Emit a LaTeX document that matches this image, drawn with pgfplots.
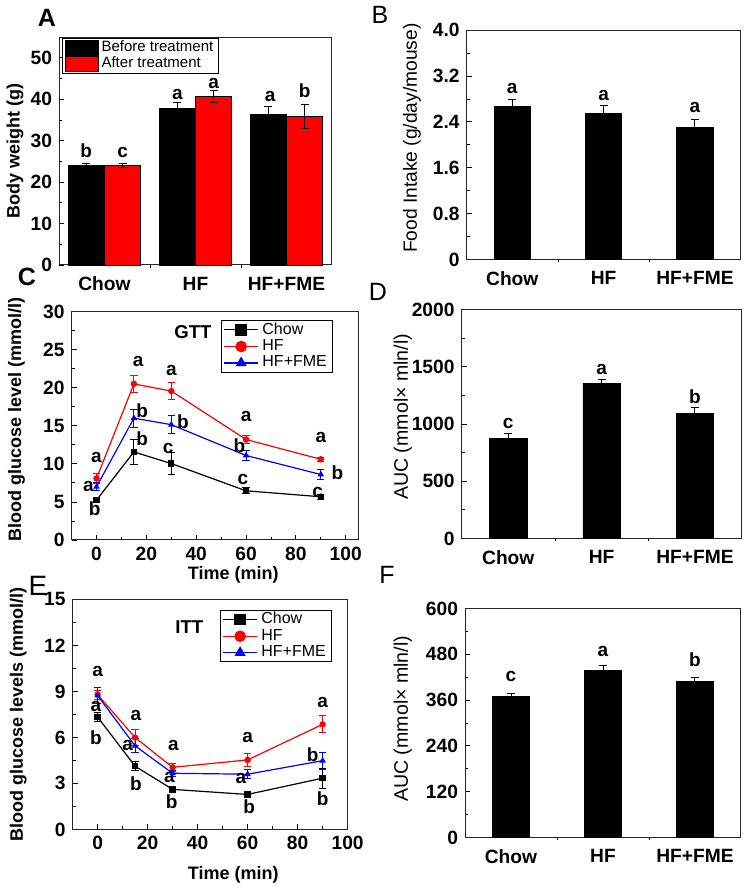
\documentclass[border=0pt]{standalone}
\usepackage{fontspec}
\setmainfont{Liberation Sans}
\usepackage{pgfplots}
\pgfplotsset{compat=1.18}
\definecolor{myred}{RGB}{255,0,0}
\definecolor{myblue}{RGB}{0,0,255}
\newcommand\letfont{\fontsize{9.5}{10}\selectfont\bfseries}
\pgfplotsset{
  base/.style={
    scale only axis,
    axis line style={line width=0.5pt, black!85},
    tick style={black, line width=0.4pt},
    tick align=inside,
    major tick length=2.5pt, minor tick length=1.5pt,
    tick label style={font=\fontsize{9.6}{10}\selectfont\bfseries},
    /pgf/number format/assume math mode=true,
    /pgf/number format/1000 sep={},
    ytick pos=left, xtick pos=bottom,
    clip=false,
    label style={font=\fontsize{9}{10}\selectfont\bfseries},
  },
  barax/.style={base, xmin=-0.5, xmax=2.5, ymin=0,
    xtick={0,1,2}, xticklabels={Chow,HF,HF+FME},
    major x tick style={draw=none}, minor xtick={0.5,1.5},
    minor y tick num=1,
    ybar, bar width=0.4, bar shift=0,
  },
  lineax/.style={base, xmin=-10, ymin=0,
    xtick={0,20,40,60,80,100}, minor x tick num=1, minor y tick num=1,
    legend cell align=left,
    legend style={font=\fontsize{8}{9}\selectfont, draw=black, line width=0.5pt,
      inner xsep=1pt, inner ysep=0.5pt, row sep=0pt, anchor=north east,
      nodes={inner ysep=0.6pt, inner xsep=1.8pt}},
    legend image post style={mark size=2.6pt},
  },
  ebar/.style={error bars/.cd, y dir=both, y explicit,
    error bar style={black, line width=0.5pt},
    error mark options={rotate=90, mark size=2pt, black, line width=0.5pt}},
  lplot/.style={#1, line width=0.6pt, mark size=1.3pt, mark options={solid, fill=#1},
    error bars/.cd, y dir=both, y explicit,
    error bar style={#1, line width=0.5pt},
    error mark options={rotate=90, mark size=1.8pt, #1, line width=0.5pt}},
}
\begin{document}
\begin{tikzpicture}
\fill[white] (0,0) rectangle (373.5pt,445pt);
\path[use as bounding box] (0,0) rectangle (373.5pt,445pt);

% panel letters
\node[font=\fontsize{12.5}{13}\selectfont\bfseries] at (23.5pt,436pt) {A};
\node[font=\fontsize{12.5}{13}\selectfont] at (190pt,437.5pt) {B};
\node[font=\fontsize{12.5}{13}\selectfont\bfseries] at (13.5pt,306.5pt) {C};
\node[font=\fontsize{12.5}{13}\selectfont] at (189pt,299pt) {D};
\node[font=\fontsize{14}{15}\selectfont] at (19pt,152pt) {E};
\node[font=\fontsize{12.5}{13}\selectfont] at (193.5pt,157.5pt) {F};

% ---------- A ----------
\begin{axis}[barax, at={(29.5pt,312.5pt)}, anchor=south west,
  width=136.5pt, height=114pt, ymax=55, ytick={0,10,20,30,40,50},
  ylabel={Body weight (g)},
  ylabel style={at={(axis description cs:-0.161,0.5)}, anchor=center},
  legend cell align=left,
  legend style={at={(0.012,0.995)}, anchor=north west, draw=black, line width=0.5pt,
    font=\fontsize{7.5}{8.5}\selectfont, inner xsep=1pt, inner ysep=0.5pt, row sep=0pt,
    nodes={inner ysep=0.6pt, inner xsep=1.5pt}},
  legend image code/.code={\draw[#1, draw=black, line width=0.4pt] (0pt,-3.6pt) rectangle (16.5pt,3.6pt);},
]
\addplot[fill=black, draw=black, ebar] table[x=x, y=y, y error=e] {
x y e
-0.2 24.0 0.5
0.8 37.7 1.4
1.8 36.3 2.0
};
\addlegendentry{Before treatment}
\addplot[fill=myred, draw=black, ebar] table[x=x, y=y, y error=e] {
x y e
0.2 24.0 0.5
1.2 40.6 1.4
2.2 35.8 2.8
};
\addlegendentry{After treatment}
\node[font=\letfont, anchor=base, inner sep=0] at (axis cs:-0.2,26) {b};
\node[font=\letfont, anchor=base, inner sep=0] at (axis cs:0.2,26) {c};
\node[font=\letfont, anchor=base, inner sep=0] at (axis cs:0.8,40) {a};
\node[font=\letfont, anchor=base, inner sep=0] at (axis cs:1.2,42.6) {a};
\node[font=\letfont, anchor=base, inner sep=0] at (axis cs:1.82,39.4) {a};
\node[font=\letfont, anchor=base, inner sep=0] at (axis cs:2.2,40.4) {b};
\end{axis}

% ---------- B ----------
\begin{axis}[barax, at={(233.3pt,315.3pt)}, anchor=south west,
  width=137pt, height=114.6pt, ymax=4, ytick={0,0.8,1.6,2.4,3.2,4.0},
  yticklabels={0,0.8,1.6,2.4,3.2,4.0},
  ylabel={Food Intake (g/day/mouse)},
  ylabel style={font=\fontsize{9.6}{10}\selectfont, at={(axis description cs:-0.2,0.529)}, anchor=center},
]
\addplot[fill=black, draw=black, ebar] table[x=x, y=y, y error=e] {
x y e
0 2.67 0.12
1 2.54 0.14
2 2.30 0.15
};
\node[font=\letfont, anchor=base, inner sep=0] at (axis cs:0,2.9) {a};
\node[font=\letfont, anchor=base, inner sep=0] at (axis cs:1,2.78) {a};
\node[font=\letfont, anchor=base, inner sep=0] at (axis cs:2,2.56) {a};
\end{axis}

% ---------- C ----------
\begin{axis}[lineax, at={(35.8pt,175pt)}, anchor=south west,
  width=143.3pt, height=114.2pt, xmax=105, ymax=30, ytick={0,5,10,15,20,25,30},
  xlabel={Time (min)}, ylabel={Blood glucose level (mmol/l)},
  ylabel style={at={(axis description cs:-0.192,0.526)}, anchor=center},
  xlabel style={at={(axis description cs:0.564,-0.153)}, anchor=center},
  legend style={at={(0.912,0.964)}},
]
\addplot[mark=square*, lplot=black] table[x=x, y=y, y error=e] {
x y e
0 5.24 0.3
15 11.57 1.6
30 10.04 1.4
60 6.46 0.4
90 5.68 0.3
};
\addlegendentry{Chow}
\addplot[mark=*, lplot=myred] table[x=x, y=y, y error=e] {
x y e
0 8.08 0.7
15 20.5 1.1
30 19.56 1.1
60 13.2 0.5
90 10.6 0.3
};
\addlegendentry{HF}
\addplot[mark=triangle*, lplot=myblue] table[x=x, y=y, y error=e] {
x y e
0 6.99 0.5
15 16.0 1.2
30 15.15 1.2
60 11.1 0.7
90 8.6 0.7
};
\addlegendentry{HF+FME}
\node[font=\fontsize{9.3}{10}\selectfont\bfseries] at (axis cs:38.7,27.3) {GTT};
\node[font=\letfont, inner sep=0] at (axis cs:0,10.9) {a};
\node[font=\letfont, inner sep=0] at (axis cs:-3.3,7.0) {a};
\node[font=\letfont, inner sep=0] at (axis cs:-0.7,4.1) {b};
\node[font=\letfont, inner sep=0] at (axis cs:16.7,23.4) {a};
\node[font=\letfont, inner sep=0] at (axis cs:18.3,17.0) {b};
\node[font=\letfont, inner sep=0] at (axis cs:18.3,13.3) {b};
\node[font=\letfont, inner sep=0] at (axis cs:30,22.3) {a};
\node[font=\letfont, inner sep=0] at (axis cs:34.7,15.5) {b};
\node[font=\letfont, inner sep=0] at (axis cs:28.7,12.0) {c};
\node[font=\letfont, inner sep=0] at (axis cs:60,16.2) {a};
\node[font=\letfont, inner sep=0] at (axis cs:57.3,12.4) {b};
\node[font=\letfont, inner sep=0] at (axis cs:58.7,7.9) {c};
\node[font=\letfont, inner sep=0] at (axis cs:90,13.5) {a};
\node[font=\letfont, inner sep=0] at (axis cs:96.7,8.8) {b};
\node[font=\letfont, inner sep=0] at (axis cs:88.7,6.3) {c};
\end{axis}

% ---------- D ----------
\begin{axis}[barax, at={(230.8pt,175.8pt)}, anchor=south west,
  width=140pt, height=114.5pt, ymax=2000, ytick={0,500,1000,1500,2000},
  ylabel={AUC (mmol× mln/l)},
  ylabel style={font=\fontsize{9.8}{10}\selectfont, at={(axis description cs:-0.21,0.531)}, anchor=center},
]
\addplot[fill=black, draw=black, ebar] table[x=x, y=y, y error=e] {
x y e
0 875 45
1 1354 37
2 1090 49
};
\node[font=\letfont, anchor=base, inner sep=0] at (axis cs:0,962) {c};
\node[font=\letfont, anchor=base, inner sep=0] at (axis cs:1,1435) {a};
\node[font=\letfont, anchor=base, inner sep=0] at (axis cs:2,1174) {b};
\end{axis}

% ---------- E ----------
\begin{axis}[lineax, at={(36.3pt,30.3pt)}, anchor=south west,
  width=137.5pt, height=115pt, xmax=100, ymax=15, ytick={0,3,6,9,12,15},
  xlabel={Time (min)}, ylabel={Blood glucose levels (mmol/l)},
  ylabel style={at={(axis description cs:-0.198,0.5)}, anchor=center},
  xlabel style={at={(axis description cs:0.584,-0.196)}, anchor=center},
  legend style={at={(0.943,0.956)}},
]
\addplot[mark=square*, lplot=black] table[x=x, y=y, y error=e] {
x y e
0 7.33 0.3
15 4.12 0.3
30 2.61 0.15
60 2.28 0.15
90 3.34 0.65
};
\addlegendentry{Chow}
\addplot[mark=*, lplot=myred] table[x=x, y=y, y error=e] {
x y e
0 8.79 0.3
15 5.99 0.5
30 4.05 0.25
60 4.53 0.45
90 6.85 0.55
};
\addlegendentry{HF}
\addplot[mark=triangle*, lplot=myblue] table[x=x, y=y, y error=e] {
x y e
0 8.73 0.55
15 5.45 0.45
30 3.66 0.2
60 3.60 0.3
90 4.48 0.55
};
\addlegendentry{HF+FME}
\node[font=\fontsize{9.3}{10}\selectfont\bfseries] at (axis cs:36.7,13.2) {ITT};
\node[font=\letfont, inner sep=0] at (axis cs:0,10.3) {a};
\node[font=\letfont, inner sep=0] at (axis cs:-0.7,8.04) {a};
\node[font=\letfont, inner sep=0] at (axis cs:-0.7,6.0) {b};
\node[font=\letfont, inner sep=0] at (axis cs:15.3,7.4) {a};
\node[font=\letfont, inner sep=0] at (axis cs:12,5.45) {a};
\node[font=\letfont, inner sep=0] at (axis cs:15.3,2.97) {b};
\node[font=\letfont, inner sep=0] at (axis cs:30.3,5.45) {a};
\node[font=\letfont, inner sep=0] at (axis cs:28.7,3.4) {a};
\node[font=\letfont, inner sep=0] at (axis cs:29.6,1.8) {b};
\node[font=\letfont, inner sep=0] at (axis cs:60,6.0) {a};
\node[font=\letfont, inner sep=0] at (axis cs:57.3,3.3) {a};
\node[font=\letfont, inner sep=0] at (axis cs:60.6,1.47) {b};
\node[font=\letfont, inner sep=0] at (axis cs:90,8.3) {a};
\node[font=\letfont, inner sep=0] at (axis cs:86,4.9) {b};
\node[font=\letfont, inner sep=0] at (axis cs:90,2.0) {b};
\end{axis}

% ---------- F ----------
\begin{axis}[barax, at={(232.5pt,26.3pt)}, anchor=south west,
  width=138pt, height=114.5pt, ymax=600, ytick={0,120,240,360,480,600},
  ylabel={AUC (mmol× mln/l)},
  ylabel style={font=\fontsize{9.8}{10}\selectfont, at={(axis description cs:-0.225,0.518)}, anchor=center},
]
\addplot[fill=black, draw=black, ebar] table[x=x, y=y, y error=e] {
x y e
0 370 7
1 438 12
2 408 10
};
\node[font=\letfont, anchor=base, inner sep=0] at (axis cs:0,408) {c};
\node[font=\letfont, anchor=base, inner sep=0] at (axis cs:1,475) {a};
\node[font=\letfont, anchor=base, inner sep=0] at (axis cs:2,447) {b};
\end{axis}
\end{tikzpicture}
\end{document}
